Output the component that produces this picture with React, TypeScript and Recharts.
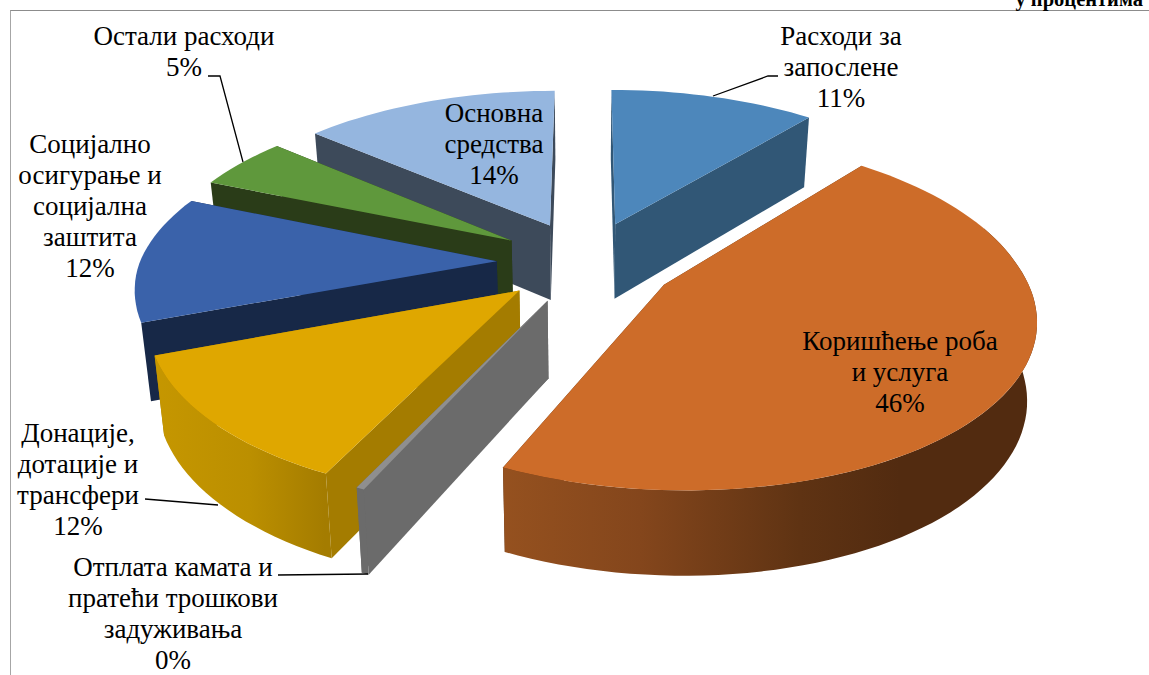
import React from 'react';
import { PieChart, Pie } from 'recharts';

// listed counter-clockwise from 12 o'clock, so the back slices paint first
const names = ['Основна средства', 'Остали расходи', 'Социјално осигурање', 'Донације', 'Отплата камата', 'Коришћење роба', 'Расходи за запослене'];
const values = [13.7, 5, 12, 12, 0.3, 46, 11];

const topColors: Record<string, string> = {
  'Основна средства': '#95b6df',
  'Остали расходи': '#5f983c',
  'Социјално осигурање': '#3a62aa',
  'Донације': '#dfa700',
  'Отплата камата': '#8f8f8f',
  'Коришћење роба': '#cd6c29',
  'Расходи за запослене': '#4d87bb',
};
const sideColors: Record<string, string> = {
  'Основна средства': '#3d4a5a',
  'Остали расходи': '#2a3c18',
  'Социјално осигурање': '#172847',
  'Донације': '#a47c00',
  'Отплата камата': '#6b6b6b',
  'Коришћење роба': '#522b10',
  'Расходи за запослене': '#315776',
};
const wallStops: Record<string, [number, string][]> = {
  'Донације': [[150, '#c69700'], [250, '#bb8f00'], [325, '#a47c00']],
  'Коришћење роба': [[503, '#95511f'], [640, '#84461c'], [800, '#5f3313'], [900, '#522b10'], [1035, '#522b10']],
};
const noWall = ['Социјално осигурање'];

type LabelSpec = { x: number; y: number; lines: string[]; leader?: [number, number][] };
const labelSpecs: Record<string, LabelSpec> = {
  'Основна средства': { x: 494, y: 122, lines: ['Основна', 'средства'] },
  'Остали расходи': { x: 184, y: 45, lines: ['Остали расходи'], leader: [[208, 76], [220, 76], [243, 162]] },
  'Социјално осигурање': { x: 90, y: 153, lines: ['Социјално', 'осигурање и', 'социјална', 'заштита'] },
  'Донације': { x: 78, y: 442, lines: ['Донације,', 'дотације и', 'трансфери'], leader: [[145, 499], [218, 505]] },
  'Отплата камата': { x: 173, y: 576, lines: ['Отплата камата и', 'пратећи трошкови', 'задуживања'], leader: [[278, 575], [368, 574]] },
  'Коришћење роба': { x: 900, y: 350, lines: ['Коришћење роба', 'и услуга'] },
  'Расходи за запослене': { x: 841, y: 45, lines: ['Расходи за', 'запослене'], leader: [[778, 76], [768, 76], [713, 96]] },
};

const data = names.map((name, i) => ({ name, value: values[i] }));

const TILT = 0.465;
const PERSPECTIVE = 0.155;
const EXPLODE = 0.25;
const DEPTH = 76;
const SHEAR = 8;
const LINE = 31;

const SliceShape = (props: any) => {
  const { cx, cy, outerRadius, startAngle, endAngle } = props;
  const name = props.payload?.name ?? props.name;
  const lo = Math.min(startAngle, endAngle);
  const hi = Math.max(startAngle, endAngle);
  const mid = ((lo + hi) / 2) * (Math.PI / 180);
  const ox = EXPLODE * Math.cos(mid);
  const oy = EXPLODE * Math.sin(mid);

  const project = (u: number, v: number, bottom: boolean) => {
    const X = ox + u;
    const Y = oy + v;
    const w = 1 + PERSPECTIVE * Y;
    // front of the disc leans slightly to the right
    let sx = cx + (outerRadius * X) / w - SHEAR * Math.min(Y, 0);
    let sy = cy - (outerRadius * TILT * Y) / w;
    if (bottom) {
      sx = cx + (sx - cx) * 0.978;
      sy += DEPTH / Math.pow(w, 0.6);
    }
    return `${sx.toFixed(1)} ${sy.toFixed(1)}`;
  };
  const rim = (deg: number, bottom: boolean) => {
    const a = (deg * Math.PI) / 180;
    return project(Math.cos(a), Math.sin(a), bottom);
  };
  const arc = (from: number, to: number, bottom: boolean) => {
    const steps = Math.max(2, Math.ceil(Math.abs(to - from) / 2));
    const pts: string[] = [];
    for (let i = 0; i <= steps; i++) pts.push(rim(from + ((to - from) * i) / steps, bottom));
    return pts;
  };
  const apexTop = project(0, 0, false);
  const apexBottom = project(0, 0, true);
  const side = sideColors[name];
  const radial = (deg: number) => `M${apexTop} L${rim(deg, false)} L${rim(deg, true)} L${apexBottom} Z`;

  // the outer wall only shows on the near half of the disc
  const wallLo = Math.max(lo, 170);
  const wallHi = Math.min(hi, 380);
  const hasWall = wallHi > wallLo && !noWall.includes(name);
  const stops = wallStops[name];
  const gradId = `wall-${names.indexOf(name)}`;
  const x0 = stops ? stops[0][0] : 0;
  const x1 = stops ? stops[stops.length - 1][0] : 1;

  return (
    <g>
      {stops && (
        <defs>
          <linearGradient id={gradId} gradientUnits="userSpaceOnUse" x1={x0} x2={x1} y1={0} y2={0}>
            {stops.map(([x, c]) => <stop key={x} offset={(x - x0) / (x1 - x0)} stopColor={c} />)}
          </linearGradient>
        </defs>
      )}
      <path d={radial(lo)} fill={side} />
      <path d={radial(hi)} fill={side} />
      {hasWall && (
        <path
          d={`M${arc(wallLo, wallHi, false).join(' L')} L${arc(wallHi, wallLo, true).join(' L')} Z`}
          fill={stops ? `url(#${gradId})` : side}
        />
      )}
      <path d={`M${apexTop} L${arc(lo, hi, false).join(' L')} Z`} fill={topColors[name]} />
    </g>
  );
};

const SliceLabel = (props: any) => {
  const spec = labelSpecs[props.name];
  if (!spec) return null;
  const lines = [...spec.lines, `${Math.round(props.value)}%`];
  return (
    <g>
      {spec.leader && (
        <polyline points={spec.leader.map((p) => p.join(',')).join(' ')} fill="none" stroke="#000" strokeWidth={1.3} />
      )}
      <text textAnchor="middle" fontFamily="'Liberation Serif'" fontSize={27} fill="#000">
        {lines.map((t, i) => (
          <tspan key={i} x={spec.x} y={spec.y + i * LINE}>{t}</tspan>
        ))}
      </text>
    </g>
  );
};

export default function App() {
  return (
    <div style={{ position: 'fixed', left: 0, top: 0, width: 1149, height: 675, background: '#fff', overflow: 'hidden' }}>
      <div style={{ position: 'absolute', left: 10, top: 10, width: 1139, height: 665, borderTop: '1.5px solid #8c8c8c', borderLeft: '1.5px solid #a6a6a6', boxSizing: 'border-box' }} />
      <div style={{ position: 'absolute', right: 6, top: -13, fontFamily: "'Liberation Serif'", fontWeight: 'bold', fontSize: 20.5, lineHeight: '24px' }}>у процентима</div>
      <div style={{ position: 'absolute', left: 0, top: 0 }}>
        <PieChart width={1149} height={675} margin={{ top: 0, right: 0, bottom: 0, left: 0 }}>
          <Pie
            data={data}
            dataKey="value"
            nameKey="name"
            cx={586}
            cy={262}
            outerRadius={357}
            startAngle={90}
            endAngle={450}
            stroke="none"
            isAnimationActive={false}
            labelLine={false}
            label={SliceLabel}
            shape={SliceShape}
            activeShape={SliceShape}
            inactiveShape={SliceShape}
          />
        </PieChart>
      </div>
    </div>
  );
}
